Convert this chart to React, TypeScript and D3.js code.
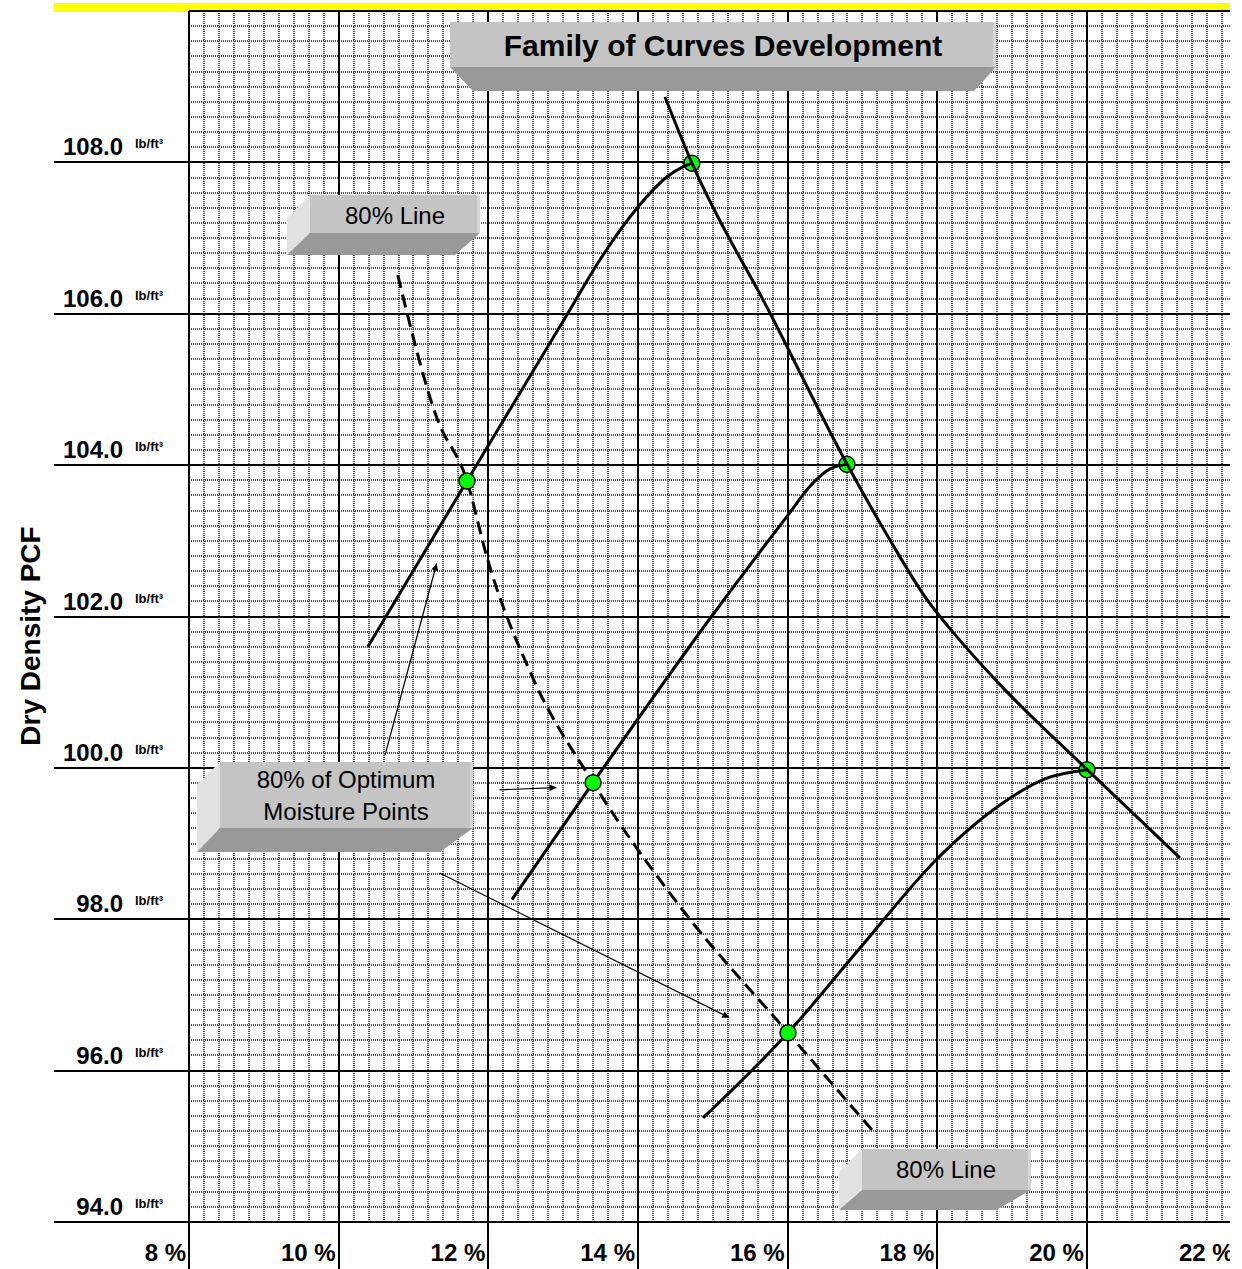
import React from "react";
import * as d3 from "d3";

// ---------- data ----------
const xTickValues = [8, 10, 12, 14, 16, 18, 20, 22];
const xTickLabels = ["8 %", "10 %", "12 %", "14 %", "16 %", "18 %", "20 %", "22 %"];
const yTickValues = [94, 96, 98, 100, 102, 104, 106, 108];
const yTickLabels = ["94.0", "96.0", "98.0", "100.0", "102.0", "104.0", "106.0", "108.0"];
const yUnitLabel = "lb/ft³";
const yAxisTitle = "Dry Density PCF";
const chartTitle = "Family of Curves Development";

// curve 1 (highest density)
const curve1Moisture = [10.39, 11.715, 13.065, 13.49, 14.0, 14.39, 14.6, 14.72];
const curve1Density = [101.6, 103.79, 106.01, 106.71, 107.41, 107.81, 107.94, 107.99];
// curve 2
const curve2Moisture = [12.316, 13.4, 14.99, 16.005, 16.326, 16.566, 16.793];
const curve2Density = [98.26, 99.805, 102.01, 103.34, 103.75, 103.95, 104.01];
// curve 3
const curve3Moisture = [14.869, 16.005, 16.967, 18.009, 18.838, 19.439, 20.0];
const curve3Density = [95.375, 96.5, 97.62, 98.81, 99.51, 99.855, 99.975];
// line of optimums (through the peaks)
const optimumMoisture = [14.361, 14.722, 15.764, 16.793, 17.368, 17.836, 18.237, 18.838, 20.0, 21.243];
const optimumDensity = [108.864, 107.99, 106.01, 104.015, 103.01, 102.26, 101.76, 101.1, 99.98, 98.81];
// 80% line (dashed)
const line80Moisture = [10.79, 11.31, 11.715, 11.98, 12.59, 13.4, 14.56, 16.005, 17.16];
const line80Density = [106.51, 104.63, 103.79, 102.79, 101.2, 99.805, 98.17, 96.5, 95.18];
// peak points
const peakMoisture = [14.72, 16.793, 20.0];
const peakDensity = [107.99, 104.01, 99.975];
// 80% of optimum moisture points
const point80Moisture = [11.715, 13.4, 16.005];
const point80Density = [103.79, 99.805, 96.5];
// annotation arrows (from -> to)
const arrowFromMoisture = [10.62, 12.15, 11.35];
const arrowFromDensity = [100.17, 99.71, 98.61];
const arrowToMoisture = [11.31, 12.91, 15.22];
const arrowToDensity = [102.7, 99.74, 96.7];

// ---------- layout ----------
const W = 1242;
const H = 1269;
const PLOT_L = 189;
const PLOT_R = 1236.6;
const PLOT_T = 11;
const PLOT_B = 1222;
const CLIP_R = 1230;
const LABEL_L = 54;
const FONT = "'Liberation Sans', Arial, sans-serif";

const FACE = "#c4c4c4";
const SIDE = "#e2e2e2";
const BOTTOM = "#999999";

type Box = {
  face: [number, number, number, number];
  left?: [number, number][];
  bottom: [number, number][];
  lines: string[];
  cx: number;
  baselines: number[];
  size: number;
  bold?: boolean;
};

const boxes: Box[] = [
  {
    face: [450, 22, 996, 67],
    bottom: [[450, 67], [996, 67], [974, 91], [473, 91]],
    lines: [chartTitle],
    cx: 723,
    baselines: [56],
    size: 30,
    bold: true,
  },
  {
    face: [310, 195, 480, 233],
    left: [[287, 218], [310, 195], [310, 233], [287, 255]],
    bottom: [[310, 233], [480, 233], [455, 255], [287, 255]],
    lines: ["80% Line"],
    cx: 395,
    baselines: [224],
    size: 24,
  },
  {
    face: [220, 762, 473, 828],
    left: [[197, 785], [220, 762], [220, 828], [197, 852]],
    bottom: [[220, 828], [473, 828], [440, 852], [197, 852]],
    lines: ["80% of Optimum", "Moisture Points"],
    cx: 346,
    baselines: [788, 820],
    size: 24,
  },
  {
    face: [862, 1149, 1031, 1190],
    left: [[839, 1172], [862, 1149], [862, 1190], [839, 1210]],
    bottom: [[862, 1190], [1031, 1190], [996, 1210], [839, 1210]],
    lines: ["80% Line"],
    cx: 946,
    baselines: [1178],
    size: 24,
  },
];

const zip = (a: number[], b: number[]): [number, number][] => a.map((v, i) => [v, b[i]]);

export default function App() {
  const x = d3.scaleLinear().domain([8, 22]).range([PLOT_L, PLOT_R]);
  const y = d3.scaleLinear().domain([94, 110]).range([PLOT_B, PLOT_T]);

  const line = d3
    .line<[number, number]>()
    .x((d) => x(d[0]))
    .y((d) => y(d[1]))
    .curve(d3.curveMonotoneX);

  const minorX = d3.range(0, 71).filter((i) => i % 10 !== 0).map((i) => 8 + i * 0.2);
  const minorY = d3.range(0, 81).filter((i) => i % 10 !== 0).map((i) => 94 + i * 0.2);

  const pts = (p: [number, number][]) => p.map((q) => q.join(",")).join(" ");

  return (
    <svg
      width={W}
      height={H}
      viewBox={`0 0 ${W} ${H}`}
      style={{ position: "absolute", left: 0, top: 0, background: "#fff" }}
    >
      <defs>
        <clipPath id="pageClip">
          <rect x={0} y={0} width={CLIP_R} height={H} />
        </clipPath>
        <marker
          id="arrowHead"
          viewBox="0 0 10 10"
          refX={10}
          refY={5}
          markerWidth={10}
          markerHeight={7}
          markerUnits="userSpaceOnUse"
          orient="auto"
        >
          <path d="M0,0 L10,5 L0,10 z" fill="#000" />
        </marker>
      </defs>
      <g clipPath="url(#pageClip)">
        <rect x={0} y={0} width={W} height={H} fill="#fff" />
        <rect x={LABEL_L} y={3} width={CLIP_R - LABEL_L} height={9} fill="#ffff00" />

        {/* minor grid */}
        <g stroke="#505050" strokeWidth={2} strokeDasharray="1 1" shapeRendering="crispEdges">
          {minorX.map((v) => (
            <line key={"mx" + v} x1={Math.round(x(v))} x2={Math.round(x(v))} y1={PLOT_T} y2={PLOT_B} />
          ))}
          {minorY.map((v) => (
            <line key={"my" + v} x1={PLOT_L} x2={CLIP_R} y1={Math.round(y(v))} y2={Math.round(y(v))} />
          ))}
        </g>

        {/* major grid */}
        <g stroke="#000" strokeWidth={2} shapeRendering="crispEdges">
          {yTickValues.map((v) => (
            <line key={"Y" + v} x1={LABEL_L} x2={CLIP_R} y1={Math.round(y(v))} y2={Math.round(y(v))} />
          ))}
          <line x1={PLOT_L} x2={CLIP_R} y1={y(110)} y2={y(110)} />
          {xTickValues.map((v) => (
            <line key={"X" + v} x1={Math.round(x(v))} x2={Math.round(x(v))} y1={PLOT_T} y2={H} />
          ))}
        </g>

        {/* y tick labels */}
        {yTickValues.map((v, i) => (
          <g key={"yl" + v} fontFamily={FONT} fontWeight="bold" fill="#000">
            <text x={123} y={y(v) - 7} fontSize={24} textAnchor="end">
              {yTickLabels[i]}
            </text>
            <text x={135} y={y(v) - 14} fontSize={13}>
              {yUnitLabel}
            </text>
          </g>
        ))}

        {/* x tick labels */}
        {xTickValues.map((v, i) => (
          <text
            key={"xl" + v}
            x={x(v) - 3}
            y={1261}
            fontFamily={FONT}
            fontWeight="bold"
            fontSize={24}
            textAnchor="end"
          >
            {xTickLabels[i]}
          </text>
        ))}

        {/* y axis title */}
        <text
          transform={`translate(40, 636) rotate(-90)`}
          fontFamily={FONT}
          fontWeight="bold"
          fontSize={28}
          textAnchor="middle"
        >
          {yAxisTitle}
        </text>

        {/* annotation boxes */}
        {boxes.map((b, i) => (
          <g key={"box" + i}>
            {b.left && <polygon points={pts(b.left)} fill={SIDE} />}
            <polygon points={pts(b.bottom)} fill={BOTTOM} />
            <rect x={b.face[0]} y={b.face[1]} width={b.face[2] - b.face[0]} height={b.face[3] - b.face[1]} fill={FACE} />
            <rect x={b.face[2] - 3} y={b.face[1]} width={3} height={b.face[3] - b.face[1]} fill="#d6d6d6" />
            {b.lines.map((t, j) => (
              <text
                key={j}
                x={b.cx}
                y={b.baselines[j]}
                fontFamily={FONT}
                fontSize={b.size}
                fontWeight={b.bold ? "bold" : "normal"}
                textAnchor="middle"
                fill="#000"
              >
                {t}
              </text>
            ))}
          </g>
        ))}

        {/* arrows */}
        {arrowFromMoisture.map((v, i) => (
          <line
            key={"ar" + i}
            x1={x(v)}
            y1={y(arrowFromDensity[i])}
            x2={x(arrowToMoisture[i])}
            y2={y(arrowToDensity[i])}
            stroke="#000"
            strokeWidth={1.2}
            markerEnd="url(#arrowHead)"
          />
        ))}

        {/* peak points (under curves) */}
        {peakMoisture.map((v, i) => (
          <circle key={"pk" + i} cx={x(v)} cy={y(peakDensity[i])} r={8} fill="#00ff00" stroke="#000" strokeWidth={1.5} />
        ))}

        {/* curves */}
        <g fill="none" stroke="#000" strokeWidth={3}>
          <path d={line(zip(curve1Moisture, curve1Density)) || ""} />
          <path d={line(zip(curve2Moisture, curve2Density)) || ""} />
          <path d={line(zip(curve3Moisture, curve3Density)) || ""} />
          <path d={line(zip(optimumMoisture, optimumDensity)) || ""} />
          <path d={line(zip(line80Moisture, line80Density)) || ""} strokeDasharray="13 7" />
        </g>

        {/* 80% points */}
        {point80Moisture.map((v, i) => (
          <circle key={"p8" + i} cx={x(v)} cy={y(point80Density[i])} r={8} fill="#00ff00" stroke="#000" strokeWidth={1.5} />
        ))}
      </g>
    </svg>
  );
}
